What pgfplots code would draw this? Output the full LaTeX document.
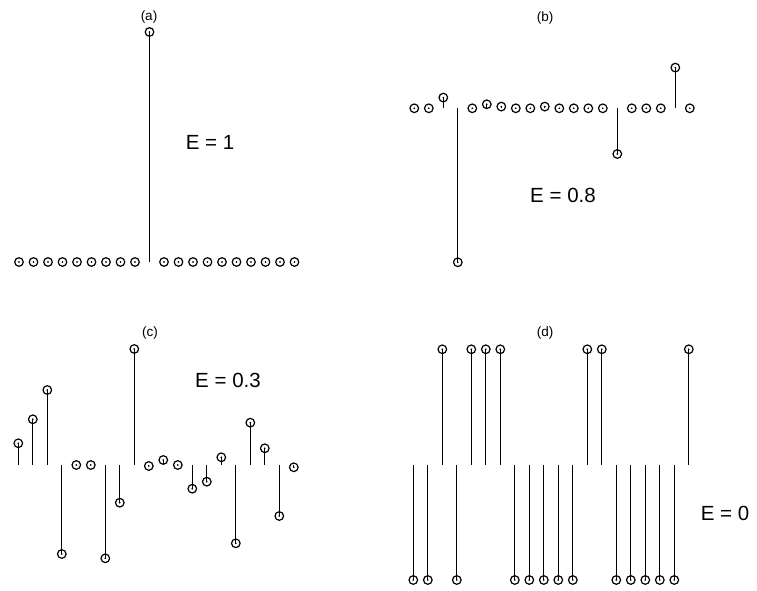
\documentclass[border=0pt]{standalone}
\usepackage{fontspec}
\setmainfont{Liberation Sans}
\usepackage{pgfplots}
\usepackage{pgfplotstable}
\pgfplotsset{compat=1.18}

% stem amplitudes, in pixels of the original figure
\pgfplotstableread{
i y
0 0
1 0
2 0
3 0
4 0
5 0
6 0
7 0
8 0
9 230
10 0
11 0
12 0
13 0
14 0
15 0
16 0
17 0
18 0
19 0
}\dataa
\pgfplotstableread{
i y
0 0
1 0
2 10.7
3 -154
4 0
5 4
6 1.7
7 0
8 0
9 1.7
10 0
11 0
12 0
13 0
14 -45.7
15 0
16 0
17 0
18 40.7
19 0
}\datab
\pgfplotstableread{
i y
0 21.7
1 45.7
2 75
3 -89
4 0
5 0
6 -93.3
7 -37.7
8 116
9 -1
10 5
11 0
12 -23.7
13 -16.7
14 7.7
15 -78.3
16 42.3
17 16.7
18 -51
19 -2.3
}\datac
\pgfplotstableread{
i y
0 -115
1 -115
2 115.7
3 -115
4 115.7
5 115.7
6 115.7
7 -115
8 -115
9 -115
10 -115
11 -115
12 115.7
13 115.7
14 -115
15 -115
16 -115
17 -115
18 -115
19 115.7
}\datad

\pgfplotsset{
  stem/.style={x=14.5pt, y=1pt, scale only axis, hide axis, clip=false,
    xmin=-1, xmax=20, anchor=south west},
  stemplot/.style={ycomb, black, line width=1pt, mark=o, mark size=4.3pt,
    mark options={line width=1.2pt}},
  dotplot/.style={only marks, black, mark=*, mark size=0.6pt},
}

\begin{document}
\begin{tikzpicture}
\path[use as bounding box] (0,0) rectangle (757pt,591pt);

\begin{axis}[stem, ymin=-10, ymax=240, at={(4.5pt,319pt)}]
\addplot[stemplot] table[x=i,y=y] {\dataa};
\addplot[dotplot] table[x=i,y=y] {\dataa};
\end{axis}

\begin{axis}[stem, ymin=-160, ymax=50, at={(399.8pt,322.7pt)}]
\addplot[stemplot] table[x=i,y=y] {\datab};
\addplot[dotplot] table[x=i,y=y] {\datab};
\end{axis}

\begin{axis}[stem, ymin=-100, ymax=120, at={(3.8pt,26pt)}]
\addplot[stemplot] table[x=i,y=y] {\datac};
\addplot[dotplot] table[x=i,y=y] {\datac};
\end{axis}

\begin{axis}[stem, ymin=-120, ymax=120, at={(398.8pt,6pt)}]
\addplot[stemplot] table[x=i,y=y] {\datad};
\addplot[dotplot] table[x=i,y=y] {\datad};
\end{axis}

\begin{scope}[every node/.style={inner sep=0pt}]
\node[font=\fontsize{13.5}{15}\selectfont] at (149pt,574pt) {(a)};
\node[font=\fontsize{13.5}{15}\selectfont] at (545pt,573pt) {(b)};
\node[font=\fontsize{13.5}{15}\selectfont] at (150pt,258pt) {(c)};
\node[font=\fontsize{13.5}{15}\selectfont] at (545pt,258pt) {(d)};
\node[font=\fontsize{20.5}{24}\selectfont] at (210pt,449pt) {E = 1};
\node[font=\fontsize{20.5}{24}\selectfont] at (563pt,396pt) {E = 0.8};
\node[font=\fontsize{20.5}{24}\selectfont] at (228pt,211pt) {E = 0.3};
\node[font=\fontsize{20.5}{24}\selectfont] at (725pt,78pt) {E = 0};
\end{scope}
\end{tikzpicture}
\end{document}
